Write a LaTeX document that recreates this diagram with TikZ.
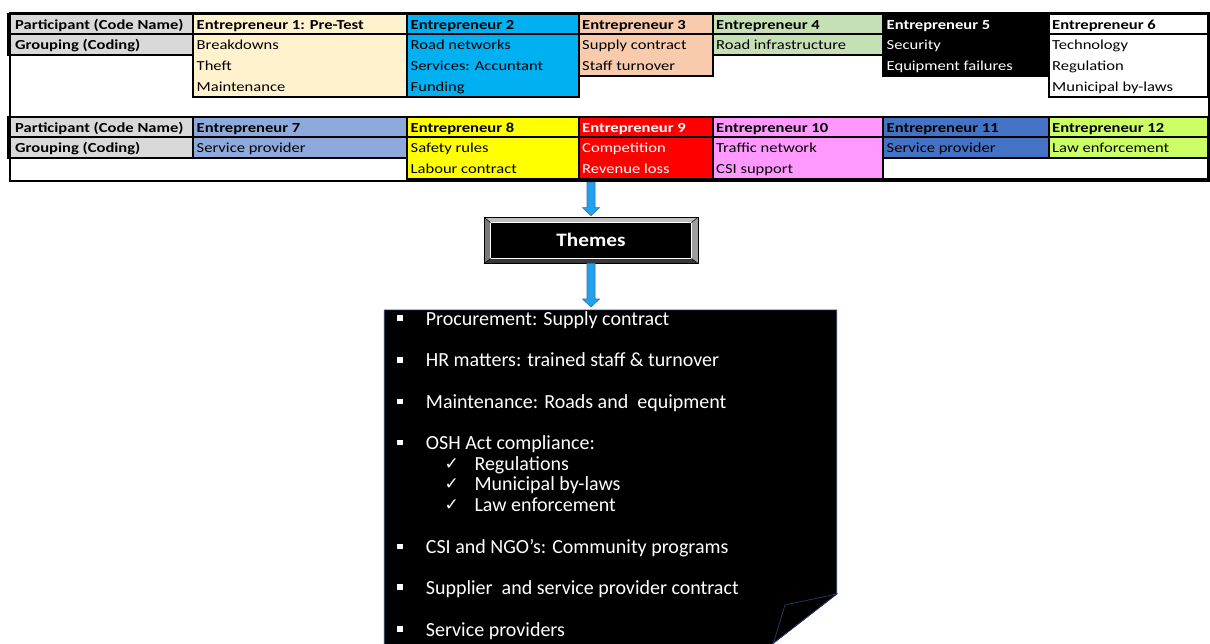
\documentclass[tikz,border=0pt]{standalone}
\usepackage{fontspec}
\setmainfont{Carlito}
\newfontfamily\tabfont[FakeStretch=1.2]{Carlito}
\newfontfamily\headfont[FakeStretch=1.12]{Carlito}
\newfontfamily\symfont{DejaVu Sans}
\usetikzlibrary{calc}

\definecolor{labgray}{HTML}{D9D9D9}
\definecolor{cOne}{HTML}{FFF2CC}
\definecolor{cTwo}{HTML}{00B0F0}
\definecolor{cThree}{HTML}{F8CBAD}
\definecolor{cFour}{HTML}{C5E0B4}
\definecolor{cFive}{HTML}{000000}
\definecolor{cSix}{HTML}{FFFFFF}
\definecolor{cSeven}{HTML}{8EA9DB}
\definecolor{cEight}{HTML}{FFFF00}
\definecolor{cNine}{HTML}{FF0000}
\definecolor{cTen}{HTML}{FF99FF}
\definecolor{cEleven}{HTML}{4472C4}
\definecolor{cTwelve}{HTML}{CCFF66}
\definecolor{arrowfill}{HTML}{22A2EC}
\definecolor{arrowline}{HTML}{2F6FB0}
\definecolor{foldline}{HTML}{1F3864}

\tikzset{
  cellbox/.style={draw=black, line width=1.2pt},
  labtext/.style={anchor=base west, inner sep=0pt, font=\tabfont\fontsize{13.8}{15}\selectfont\bfseries},
  celltext/.style={anchor=base west, inner sep=0pt, font=\tabfont\fontsize{13.8}{15}\selectfont},
  headtext/.style={celltext, font=\tabfont\fontsize{13.8}{15}\selectfont\bfseries},
  arrowblk/.style={fill=arrowfill, draw=arrowline, line width=0.6pt},
  themebox/.style={fill=black, minimum width=213.5pt, minimum height=46pt, inner sep=0pt,
    text=white, font=\headfont\fontsize{19}{21}\selectfont\bfseries},
  itemtext/.style={anchor=base west, inner sep=0pt, text=white, font=\fontsize{20}{22}\selectfont},
  subtext/.style={itemtext},
  checktext/.style={anchor=base west, inner sep=0pt, text=white, font=\symfont\fontsize{17}{19}\selectfont},
}

% block arrow whose shaft starts at the height of #1 and whose tip is at #2
\newcommand\blockarrow[2]{%
  \path[arrowblk] let \p1=(#1), \p2=(#2) in
    ({\x2-4pt},\y1) -- ({\x2+4pt},\y1) -- ({\x2+4pt},{\y2+8pt}) -- ({\x2+8.5pt},{\y2+8pt})
    -- (\x2,\y2) -- ({\x2-8.5pt},{\y2+8pt}) -- ({\x2-4pt},{\y2+8pt}) -- cycle;}

% a bullet square placed before a line whose baseline is #1
\newcommand\sqbullet[1]{\fill[white] (396.8,{#1-9.6}) rectangle (402.6,{#1-4});}

\begin{document}
\begin{tikzpicture}[x=1pt, y=-1pt]
\useasboundingbox (0,0) rectangle (1210,643);
\clip (0,0) rectangle (1210,643);

% ---------------- first table ----------------
\filldraw[cellbox, fill=labgray] (8,14) rectangle (193,34);
\filldraw[cellbox, fill=labgray] (8,34) rectangle (193,55);
\node[labtext] (p1) at (15,29) {Participant (Code Name)};
\node[labtext] (g1) at (15,49.5) {Grouping (Coding)};

% Entrepreneur 1
\filldraw[cellbox, fill=cOne] (193,14) rectangle (407,34);
\filldraw[cellbox, fill=cOne] (193,34) rectangle (407,97);
\node[headtext] (e1) at (196.5,29) {Entrepreneur 1: Pre-Test};
\node[celltext] (e1a) at (196.5,49.5) {Breakdowns};
\node[celltext] (e1b) at (196.5,70.5) {Theft};
\node[celltext] (e1c) at (196.5,91.5) {Maintenance};

% Entrepreneur 2
\filldraw[cellbox, fill=cTwo] (407,14) rectangle (579,34);
\filldraw[cellbox, fill=cTwo] (407,34) rectangle (579,97);
\node[headtext] (e2) at (410.5,29) {Entrepreneur 2};
\node[celltext] (e2a) at (410.5,49.5) {Road networks};
\node[celltext] (e2b) at (410.5,70.5) {Services: Accuntant};
\node[celltext] (e2c) at (410.5,91.5) {Funding};

% Entrepreneur 3
\filldraw[cellbox, fill=cThree] (579,14) rectangle (713,34);
\filldraw[cellbox, fill=cThree] (579,34) rectangle (713,76);
\node[headtext] (e3) at (582,29) {Entrepreneur 3};
\node[celltext] (e3a) at (582,49.5) {Supply contract};
\node[celltext] (e3b) at (582,70.5) {Staff turnover};

% Entrepreneur 4
\filldraw[cellbox, fill=cFour] (713,14) rectangle (883,34);
\filldraw[cellbox, fill=cFour] (713,34) rectangle (883,55);
\node[headtext] (e4) at (716,29) {Entrepreneur 4};
\node[celltext] (e4a) at (716,49.5) {Road infrastructure};

% Entrepreneur 5
\filldraw[cellbox, fill=cFive] (883,14) rectangle (1049,34);
\filldraw[cellbox, fill=cFive] (883,34) rectangle (1049,76);
\node[headtext, text=white] (e5) at (886.5,29) {Entrepreneur 5};
\node[celltext, text=white] (e5a) at (886.5,49.5) {Security};
\node[celltext, text=white] (e5b) at (886.5,70.5) {Equipment failures};

% Entrepreneur 6
\filldraw[cellbox, fill=cSix] (1049,14) rectangle (1208,34);
\filldraw[cellbox, fill=cSix] (1049,34) rectangle (1208,97);
\node[headtext] (e6) at (1052,29) {Entrepreneur 6};
\node[celltext] (e6a) at (1052,49.5) {Technology};
\node[celltext] (e6b) at (1052,70.5) {Regulation};
\node[celltext] (e6c) at (1052,91.5) {Municipal by-laws};

% ---------------- second table ----------------
\filldraw[cellbox, fill=labgray] (8,117) rectangle (193,137);
\filldraw[cellbox, fill=labgray] (8,137) rectangle (193,158);
\node[labtext] (p2) at (15,132) {Participant (Code Name)};
\node[labtext] (g2) at (15,152.5) {Grouping (Coding)};

% Entrepreneur 7
\filldraw[cellbox, fill=cSeven] (193,117) rectangle (407,137);
\filldraw[cellbox, fill=cSeven] (193,137) rectangle (407,158);
\node[headtext] (e7) at (196.5,132) {Entrepreneur 7};
\node[celltext] (e7a) at (196.5,152.5) {Service provider};

% Entrepreneur 8
\filldraw[cellbox, fill=cEight] (407,117) rectangle (579,137);
\filldraw[cellbox, fill=cEight] (407,137) rectangle (579,179);
\node[headtext] (e8) at (410.5,132) {Entrepreneur 8};
\node[celltext] (e8a) at (410.5,152.5) {Safety rules};
\node[celltext] (e8b) at (410.5,173.5) {Labour contract};

% Entrepreneur 9
\filldraw[cellbox, fill=cNine] (579,117) rectangle (713,137);
\filldraw[cellbox, fill=cNine] (579,137) rectangle (713,179);
\node[headtext, text=white] (e9) at (582,132) {Entrepreneur 9};
\node[celltext, text=white] (e9a) at (582,152.5) {Competition};
\node[celltext, text=white] (e9b) at (582,173.5) {Revenue loss};

% Entrepreneur 10
\filldraw[cellbox, fill=cTen] (713,117) rectangle (883,137);
\filldraw[cellbox, fill=cTen] (713,137) rectangle (883,179);
\node[headtext] (e10) at (716,132) {Entrepreneur 10};
\node[celltext] (e10a) at (716,152.5) {Traffic network};
\node[celltext] (e10b) at (716,173.5) {CSI support};

% Entrepreneur 11
\filldraw[cellbox, fill=cEleven] (883,117) rectangle (1049,137);
\filldraw[cellbox, fill=cEleven] (883,137) rectangle (1049,158);
\node[headtext] (e11) at (886.5,132) {Entrepreneur 11};
\node[celltext] (e11a) at (886.5,152.5) {Service provider};

% Entrepreneur 12
\filldraw[cellbox, fill=cTwelve] (1049,117) rectangle (1208,137);
\filldraw[cellbox, fill=cTwelve] (1049,137) rectangle (1208,158);
\node[headtext] (e12) at (1052,132) {Entrepreneur 12};
\node[celltext] (e12a) at (1052,152.5) {Law enforcement};
\draw[cellbox] (883,158) rectangle (1208,179);

% outer frame around both tables
\node[draw=black, line width=2.6pt, minimum width=1199pt, minimum height=168pt,
      inner sep=0pt, anchor=north west] (tbl) at (8.5,11.5) {};

% ---------------- Themes box ----------------
\node[themebox] (themes) at (591,240.3) {Themes};
% bevelled edges
\fill[black!25] (themes.north west) -- (themes.north east)
   -- ($(themes.north east)+(-6.5,5.5)$) -- ($(themes.north west)+(6.5,5.5)$) -- cycle;
\fill[black!52] (themes.north west) -- ($(themes.north west)+(6.5,5.5)$)
   -- ($(themes.south west)+(6.5,-5)$) -- (themes.south west) -- cycle;
\fill[black!38] (themes.north east) -- ($(themes.north east)+(-6.5,5.5)$)
   -- ($(themes.south east)+(-6.5,-5)$) -- (themes.south east) -- cycle;
\fill[black!78] (themes.south west) -- ($(themes.south west)+(6.5,-5)$)
   -- ($(themes.south east)+(-6.5,-5)$) -- (themes.south east) -- cycle;
\draw[white, line width=0.9pt] ($(themes.north west)+(6.5,5.5)$) rectangle ($(themes.south east)+(-6.5,-5)$);
\draw[black, line width=0.9pt] (themes.north west) rectangle (themes.south east);
\draw[black, line width=0.5pt] (themes.north west) -- ($(themes.north west)+(6.5,5.5)$)
  (themes.north east) -- ($(themes.north east)+(-6.5,5.5)$)
  (themes.south west) -- ($(themes.south west)+(6.5,-5)$)
  (themes.south east) -- ($(themes.south east)+(-6.5,-5)$);

% ---------------- theme list with folded corner ----------------
\coordinate (listtop) at (591,310);
\filldraw[fill=black, draw=foldline, line width=0.8pt]
  (384.3,310) -- (836.7,310) -- (836.7,594) -- (764.6,650) -- (384.3,650) -- cycle;
\filldraw[fill=black, draw=foldline, line width=0.8pt]
  (836.7,594) -- (785,605) -- (773.5,643) -- cycle;

% ---------------- arrows ----------------
\coordinate (a1s) at (tbl.south -| themes.north);
\blockarrow{a1s}{$(themes.north)+(0,-1.5)$}
\blockarrow{themes.south}{$(listtop)+(0,-3)$}

% ---------------- list entries ----------------
\sqbullet{325}
\node[itemtext] (t1) at (425.7,325) {Procurement: Supply contract};
\sqbullet{366.7}
\node[itemtext] (t2) at (425.7,366.7) {HR matters: trained staff \& turnover};
\sqbullet{408.3}
\node[itemtext] (t3) at (425.7,408.3) {Maintenance: Roads and\ \ equipment};
\sqbullet{449.3}
\node[itemtext] (t4) at (425.7,449.3) {OSH Act compliance:};
\node[checktext] (c1) at (444.5,469) {✓};
\node[subtext] (s1) at (474.3,470) {Regulations};
\node[checktext] (c2) at (444.5,489.7) {✓};
\node[subtext] (s2) at (474.3,490.7) {Municipal by-laws};
\node[checktext] (c3) at (444.5,510) {✓};
\node[subtext] (s3) at (474.3,511) {Law enforcement};
\sqbullet{553.3}
\node[itemtext] (t5) at (425.7,553.3) {CSI and NGO’s: Community programs};
\sqbullet{594}
\node[itemtext] (t6) at (425.7,594) {Supplier\ \ and service provider contract};
\sqbullet{636}
\node[itemtext] (t7) at (425.7,636) {Service providers};
\end{tikzpicture}
\end{document}
